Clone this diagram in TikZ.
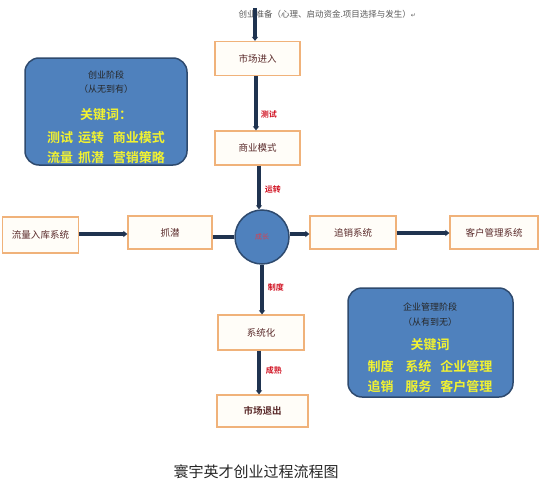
\documentclass[tikz,border=0pt]{standalone}
\usepackage{fontspec}
\setmainfont{Noto Sans CJK SC}
\newfontfamily\cjkb{Noto Sans CJK SC Bold}
\newfontfamily\symfont{DejaVu Sans}
\usetikzlibrary{arrows.meta}
\definecolor{navy}{HTML}{1F3350}
\definecolor{boxline}{HTML}{F0B27A}
\definecolor{boxfill}{HTML}{FFFDF8}
\definecolor{bluefill}{HTML}{4F81BD}
\definecolor{blueline}{HTML}{2E4A6E}
\definecolor{kwyellow}{HTML}{F2F230}
\definecolor{redtxt}{HTML}{D01020}
\definecolor{boxtxt}{HTML}{5A2A2A}
\tikzset{
  stepbox/.style={draw=boxline, line width=1.2pt, fill=boxfill, minimum width=85pt, minimum height=34pt, inner sep=0pt, font=\fontsize{9.5}{10}\selectfont, text=boxtxt},
  conn/.style={draw=navy, line width=3.2pt, -{Triangle[length=4pt,width=6pt]}},
  plain/.style={draw=navy, line width=3.2pt},
  lbl/.style={font=\cjkb\fontsize{8}{9}\selectfont, text=redtxt},
  stagebox/.style={draw=blueline, line width=1.5pt, fill=bluefill, rounded corners=14pt},
  kw/.style={font=\cjkb\fontsize{13}{15}\selectfont, text=kwyellow},
  sttxt/.style={font=\fontsize{9}{11}\selectfont, text=black!85}
}
\begin{document}
\begin{tikzpicture}[x=1pt,y=-1pt]
\useasboundingbox (0,0) rectangle (540,495);
% top text
\node[font=\fontsize{8.5}{10}\selectfont, text=black!65, anchor=west] (prep) at (235,14) {创业准备（心理、启动资金.项目选择与发生）{\symfont\fontsize{6}{7}\selectfont ↵}};
\coordinate (topstart) at (255,8);
% boxes
\node[stepbox] (b1) at (257.5,58.5) {市场进入};
\node[stepbox] (b2) at (257.5,148) {商业模式};
\node[circle, draw=blueline, line width=1.5pt, fill=bluefill, minimum size=54pt, inner sep=0pt, font=\fontsize{7}{8}\selectfont, text=redtxt!80] (c) at (262,237) {成长};
\node[stepbox, minimum width=76pt, minimum height=36pt] (l1) at (40.5,235) {流量入库系统};
\node[stepbox, minimum width=84pt, minimum height=33pt] (l2) at (170,232.5) {抓潜};
\node[stepbox, minimum width=86pt, minimum height=33pt] (r1) at (353,232.5) {追销系统};
\node[stepbox, minimum width=88pt, minimum height=33pt] (r2) at (494,232.5) {客户管理系统};
\node[stepbox, minimum width=86pt, minimum height=35pt] (d1) at (261,332.5) {系统化};
\node[stepbox, minimum width=91pt, minimum height=32pt, font=\cjkb\fontsize{9.5}{10}\selectfont] (d2) at (262.5,411) {市场退出};
% connectors
\draw[conn] (topstart) -- (b1.north -| topstart);
\draw[conn] (b1.south -| 256,0) -- node[lbl, right=0pt, pos=0.7] {测试} (b2.north -| 256,0);
\draw[conn] (b2.south -| 259,0) -- node[lbl, right=1pt, pos=0.55] {运转} (c.north -| 259,0);
\draw[conn] (l1.east |- 0,234) -- (l2.west |- 0,234);
\draw[plain] (l2.east |- 0,237) -- (c.west |- 0,237);
\draw[conn] (c.east |- 0,234) -- (r1.west |- 0,234);
\draw[conn] (r1.east |- 0,233) -- (r2.west |- 0,233);
\draw[conn] (c.south -| 262,0) -- node[lbl, right=1pt, pos=0.45] {制度} (d1.north -| 262,0);
\draw[conn] (d1.south -| 259,0) -- node[lbl, right=2pt, pos=0.45] {成熟} (d2.north -| 259,0);
% stage boxes
\node[stagebox, minimum width=162pt, minimum height=107pt] (s1) at (106,111.5) {};
\node[sttxt] (s1a) at (106,75) {创业阶段};
\node[sttxt] (s1b) at (106,89) {（从无到有）};
\node[kw] (s1c) at (106,115) {关键词：};
\node[kw] (s1d) at (106,138) {测试\ \,运转\ \ \ 商业模式};
\node[kw] (s1e) at (106,158) {流量\ \,抓潜\ \ \ 营销策略};
\node[stagebox, minimum width=165pt, minimum height=109pt] (s2) at (430.5,342.5) {};
\node[sttxt] (s2a) at (430,307) {企业管理阶段};
\node[sttxt] (s2b) at (430,322) {（从有到无）};
\node[kw] (s2c) at (430,345) {关键词};
\node[kw] (s2d) at (430,367) {制度\ \ \ \ 系统\ \ \ 企业管理};
\node[kw] (s2e) at (430,387) {追销\ \ \ \ 服务\ \ \ 客户管理};
% title
\node[font=\fontsize{15}{17}\selectfont, text=black!85] (title) at (256,472) {寰宇英才创业过程流程图};
\end{tikzpicture}
\end{document}
